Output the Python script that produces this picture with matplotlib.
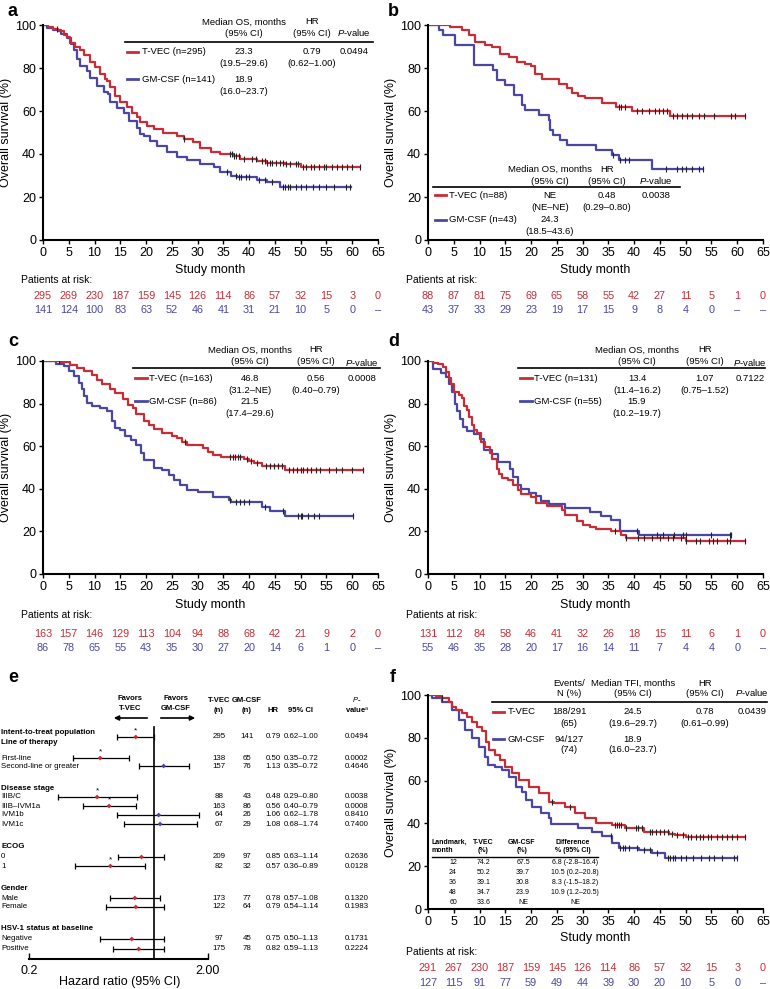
import numpy as np
import matplotlib
matplotlib.use('Agg')
import matplotlib.pyplot as plt
from matplotlib.lines import Line2D
from matplotlib.ticker import NullLocator

plt.rcParams['font.family'] = ['Liberation Sans', 'DejaVu Sans']
plt.rcParams['mathtext.fontset'] = 'custom'
plt.rcParams['mathtext.it'] = 'Liberation Sans:italic'
plt.rcParams['mathtext.rm'] = 'Liberation Sans'
plt.rcParams['mathtext.bf'] = 'Liberation Sans:bold'

RED = '#c62d36'
BLUE = '#4a47a3'
W, H = 770, 989

# ---------------- Kaplan-Meier data (time in months, survival in %) ----------------
a_red_t = [0, 1, 2, 3, 4, 4.7, 5.3, 6.2, 7.2, 8, 9.2, 10, 11.1, 12, 12.4, 13, 14, 15, 16.3, 17.3,
           18.2, 18.9, 20.2, 21.5, 23.3, 26, 27.3, 29.2, 30.5, 32.5, 34.4, 37, 38.3, 41.5, 43.5, 47, 50]
a_red_s = [100, 99, 98, 97, 95.5, 94.5, 91.5, 90, 88.5, 86, 83, 80.5, 77, 75, 74, 71, 67, 64, 62, 59,
           57, 55, 53, 51.5, 49.8, 48.5, 47, 45.4, 43, 40.8, 40, 39.2, 37.7, 36.6, 36, 35.3, 33.8]
a_red_end = 61.5
a_red_cens = [2.7, 27.3, 36.2, 36.6, 37, 37.4, 38, 39, 40.5, 41.3, 42.5, 43, 43.5, 44, 44.5, 45.2, 46,
              46.5, 47.2, 48, 49, 49.5, 50.5, 51, 52, 52.5, 53.5, 54.5, 55, 56, 57, 58, 59, 60, 61.5]
a_blue_t = [0, 0.8, 2, 3.4, 4.7, 5.5, 6, 6.6, 7.2, 8.5, 9.2, 10.5, 11.8, 12.7, 13, 14.4, 15.7, 16.6,
            18.2, 18.9, 19.5, 20.8, 22.1, 24, 26, 27.9, 30.5, 33.1, 34.4, 36.4, 37.6, 41.5, 43.5, 46]
a_blue_s = [100, 98.5, 97.5, 96, 94, 91, 88.5, 84, 81, 78.5, 75.4, 71.5, 69, 67.7, 64, 61.5, 59, 55.4,
            52, 49.5, 48.5, 46, 43.8, 40.8, 38.5, 37, 35.4, 33.8, 31.5, 30, 29.2, 27.7, 27, 24.6]
a_blue_end = 59.7
a_blue_cens = [35.7, 37.5, 38, 38.5, 39.3, 40, 42, 43, 44.5, 46.5, 47, 47.5, 48, 49, 50, 51, 52.3,
               53.5, 55, 56.5, 58.8, 59.5]
a_risk_red = ['295', '269', '230', '187', '159', '145', '126', '114', '86', '57', '32', '15', '3', '0']
a_risk_blue = ['141', '124', '100', '83', '63', '52', '46', '41', '31', '21', '10', '5', '0', '–']

b_red_t = [0, 4.3, 6.5, 7.9, 9.2, 11.1, 12.4, 14, 15.7, 17.3, 18.9, 20, 20.8, 22.1, 25.4, 27, 27.9,
           29.2, 30.5, 33.8, 36.4, 39.6, 46.9]
b_red_s = [100, 98.9, 97.7, 95.5, 92, 90.9, 89.8, 86.4, 85.2, 83, 81.8, 80.7, 77.3, 75, 72.7, 70.5,
           68.2, 67, 65.9, 63.6, 62, 60.2, 57.7]
b_red_end = 61.6
b_red_cens = [37, 37.5, 38.2, 40.5, 41.5, 42.8, 44, 44.8, 45.5, 46.3, 47.5, 48.3, 49.2, 50.3, 51.3,
              52.5, 53.5, 55.5, 58.8, 59.5, 61.6]
b_blue_t = [0, 2.1, 3, 5.3, 8.9, 12.7, 13.4, 15, 16.6, 18.2, 18.9, 21.5, 23.4, 23.7, 24.3, 25.7, 27,
            32.5, 35.7, 37, 43.5]
b_blue_s = [100, 97.7, 95.3, 90.7, 81.4, 79.1, 74.4, 72.1, 67.4, 62.8, 60.5, 58.1, 55.8, 51.2, 48.8,
            46.5, 44.2, 41.9, 39.5, 37.2, 32.8]
b_blue_end = 53.3
b_blue_cens = [35.8, 37.3, 38.3, 39, 46.1, 48.3, 49.2, 50, 51.3, 52.5, 53.3]
b_risk_red = ['88', '87', '81', '75', '69', '65', '58', '55', '42', '27', '11', '5', '1', '0']
b_risk_blue = ['43', '37', '33', '29', '23', '19', '17', '15', '9', '8', '4', '0', '–', '–']

c_red_t = [0, 3.3, 5.3, 6.5, 8, 9.5, 10.5, 11.5, 13, 14, 15.5, 16.5, 17.5, 18, 19.5, 20.5, 21.5, 23,
           25, 26, 27, 28, 31, 32, 33, 34.5, 39, 40, 41, 42.5, 47]
c_red_s = [100, 99.4, 98, 96.5, 95.2, 93.5, 91, 89, 87, 85, 82, 79.5, 78, 75, 72, 70, 68, 66, 65, 64,
           62, 60.5, 59, 57.5, 56, 55, 54, 53, 52, 50.5, 49]
c_red_end = 62
c_red_cens = [3.1, 27.5, 36.3, 36.8, 37.3, 37.8, 38.3, 39.5, 40.3, 41.5, 43.3, 44, 44.8, 45.5, 46.3,
              47.8, 48.5, 49.3, 50.1, 50.5, 51.2, 52, 53, 53.8, 55.5, 56.8, 58, 60, 62]
c_blue_t = [0, 2.5, 4, 5, 6, 7, 7.5, 8, 8.5, 9.5, 11, 12.5, 13.3, 14, 15, 16, 17, 18, 19, 19.5, 21.5,
            23, 24.5, 25.5, 26.5, 28, 30, 33, 36, 36.5, 42.5, 44, 47]
c_blue_s = [100, 98.8, 97.7, 95.3, 93, 89.5, 87, 83.7, 80.2, 79, 77.9, 76.7, 72, 68.6, 67.4, 65, 62.8,
            60.5, 57, 53.5, 49.8, 48.8, 46.5, 44.2, 41.9, 39.5, 38.4, 36, 34.9, 33.7, 31.4, 29.6, 27.4]
c_blue_end = 60.2
c_blue_cens = [36.3, 37.5, 38.2, 39, 40, 43, 46.5, 49.5, 50, 50.3, 51.5, 52.5, 53.5, 60.2]
c_risk_red = ['163', '157', '146', '129', '113', '104', '94', '88', '68', '42', '21', '9', '2', '0']
c_risk_blue = ['86', '78', '65', '55', '43', '35', '30', '27', '20', '14', '6', '1', '0', '–']

d_red_t = [0, 1, 2, 3, 3.5, 4, 4.5, 5, 6, 6.5, 7, 7.5, 8, 8.5, 9, 9.5, 10.3, 11, 12, 12.5, 13.4, 13.8,
           14.3, 15.5, 16.5, 17.5, 18, 20, 21, 23, 26, 26.5, 29, 30, 31.5, 32.5, 35.5, 37.5, 38.5, 50]
d_red_s = [100, 99.2, 98.5, 97, 95, 92, 89, 85.5, 84, 82.5, 79, 77, 73.5, 70, 67.5, 66, 62, 59.5, 57,
           54, 49.5, 47, 45, 44, 42, 39.5, 37.5, 36, 33.5, 32, 30, 27.5, 25, 23, 22, 21, 20, 18.5, 17, 15.6]
d_red_end = 61.5
d_red_cens = [36.2, 38.5, 40.8, 42, 43.5, 45, 46.5, 47.5, 49, 50, 52, 52.8, 54.5, 55.3, 56, 58, 58.5, 61.5]
d_blue_t = [0, 1, 2.5, 3.5, 4, 4.7, 5.2, 5.7, 6.3, 6.7, 7.5, 9, 10, 10.8, 12.5, 13.5, 15.9, 16.5, 17.5,
            18, 19.5, 21, 22, 23.5, 26.5, 31.5, 33.5, 35.5, 37.3, 41]
d_blue_s = [100, 96.4, 94.5, 92.7, 89.1, 85.5, 80, 76.4, 72.7, 69.1, 67.3, 65.5, 63.6, 58.2, 56.4, 52.7,
            49.1, 45.5, 41.8, 40, 38.2, 36.4, 34.5, 32.7, 30.9, 29.1, 27.3, 25.5, 20, 18.2]
d_blue_end = 58.7
d_blue_cens = [40.5, 44.5, 45.5, 47.8, 49.5, 50, 55, 58.5, 58.7]
d_risk_red = ['131', '112', '84', '58', '46', '41', '32', '26', '18', '15', '11', '6', '1', '0']
d_risk_blue = ['55', '46', '35', '28', '20', '17', '16', '14', '11', '7', '4', '4', '0', '–']

f_red_t = [0, 1.5, 2.8, 4, 4.7, 5.5, 6.6, 7.5, 8.5, 9.5, 10.5, 11.2, 11.9, 13, 14, 15, 16.3, 17.6, 19.5,
           21.5, 23.4, 24.5, 26.6, 28.6, 30.5, 32.5, 35.7, 38.3, 42, 46.7, 48, 50]
f_red_s = [100, 99.3, 98.6, 96.5, 94.5, 93, 91.5, 89.5, 87.5, 85, 83, 78, 74.2, 72, 69.6, 66.5, 63.5,
           60.3, 57, 54, 50.2, 49.5, 47.8, 44.8, 42.5, 40.1, 39.3, 37.7, 36.2, 35.2, 34.6, 33.6]
f_red_end = 61.6
f_red_cens = [2.8, 24, 27.6, 36.2, 36.6, 37, 37.5, 38.5, 40.3, 40.8, 41.5, 43, 43.5, 44.2, 45, 45.8,
              46.5, 47.3, 48.3, 49.5, 50.5, 51, 52, 52.7, 53.3, 54.3, 55, 56, 57, 58, 59, 60, 61.6]
f_blue_t = [0, 0.8, 2.7, 4.7, 6, 7.2, 8.5, 9.8, 11.1, 11.7, 13, 14.4, 15.7, 17, 18.2, 19, 20.2, 22,
            23.4, 23.9, 29.2, 31.8, 33.8, 35.7, 37, 40.9, 43.5, 46]
f_blue_s = [100, 98.6, 96.9, 93, 88.3, 83.6, 79.7, 75.8, 71.1, 67.5, 66.5, 64.9, 61.8, 57.1, 54.8, 51,
            47.8, 44.8, 42.5, 39.7, 37.7, 36.2, 34, 30.8, 28.3, 27.5, 26, 23.9]
f_blue_end = 60
f_blue_cens = [35.5, 37.3, 37.8, 38.3, 39, 40.5, 42, 43, 44.5, 46.5, 47, 47.5, 48, 49, 50, 51.5, 53,
               54.5, 55.5, 57, 59.3, 60]
f_risk_red = ['291', '267', '230', '187', '159', '145', '126', '114', '86', '57', '32', '15', '3', '0']
f_risk_blue = ['127', '115', '91', '77', '59', '49', '44', '39', '30', '20', '10', '5', '0', '–']

risk_months = list(range(0, 70, 5))

# landmark table (panel f)
lm_month = ['12', '24', '36', '48', '60']
lm_tvec = ['74.2', '50.2', '39.1', '34.7', '33.6']
lm_gm = ['67.5', '39.7', '30.8', '23.9', 'NE']
lm_diff = ['6.8 (-2.8–16.4)', '10.5 (0.2–20.8)', '8.3 (-1.5–18.2)', '10.9 (1.2–20.5)', 'NE']

# ---------------- forest plot data (panel e) ----------------
fp_labels = ['Intent-to-treat population', 'Line of therapy', 'First-line', 'Second-line or greater',
             'Disease stage', 'IIIB/C', 'IIIB–IVM1a', 'IVM1b', 'IVM1c', 'ECOG', '0', '1', 'Gender',
             'Male', 'Female', 'HSV-1 status at baseline', 'Negative', 'Positive']
fp_bold = [True, True, False, False, True, False, False, False, False, True, False, False, True,
           False, False, True, False, False]
n_tvec = [295, 138, 157, 88, 163, 64, 67, 209, 82, 173, 122, 97, 175]
n_gm = [141, 65, 76, 43, 86, 26, 29, 97, 32, 77, 64, 45, 78]
hr = [0.79, 0.50, 1.13, 0.48, 0.56, 1.06, 1.08, 0.85, 0.57, 0.78, 0.79, 0.75, 0.82]
ci_lo = [0.62, 0.35, 0.82, 0.29, 0.40, 0.62, 0.68, 0.63, 0.36, 0.57, 0.54, 0.50, 0.59]
ci_hi = [1.00, 0.72, 1.56, 0.80, 0.79, 1.78, 1.74, 1.14, 0.89, 1.08, 1.14, 1.13, 1.13]
ci_text = ['0.62–1.00', '0.35–0.72', '0.35–0.72', '0.29–0.80', '0.40–0.79', '0.62–1.78', '0.68–1.74',
           '0.63–1.14', '0.36–0.89', '0.57–1.08', '0.54–1.14', '0.50–1.13', '0.59–1.13']
pvals = ['0.0494', '0.0002', '0.4646', '0.0038', '0.0008', '0.8410', '0.7400', '0.2636', '0.0128',
         '0.1320', '0.1983', '0.1731', '0.2224']

fig = plt.figure(figsize=(7.7, 9.89), dpi=100)


def T(x, y, s, **kw):
    kw.setdefault('va', 'center')
    kw.setdefault('ha', 'center')
    kw.setdefault('fontsize', 6.8)
    fig.text(x / W, 1 - y / H, s, **kw)


def L(x0, x1, y, **kw):
    kw.setdefault('color', 'black')
    kw.setdefault('lw', 1.2)
    fig.add_artist(Line2D([x0 / W, x1 / W], [1 - y / H, 1 - y / H], transform=fig.transFigure, **kw))


def km_panel(box, arms, risk_red, risk_blue, off):
    x0, y0, x1, y1 = box
    ax = fig.add_axes([x0 / W, 1 - y1 / H, (x1 - x0) / W, (y1 - y0) / H])
    for t, s, end, cens, col in arms:
        ax.step(list(t) + [end], list(s) + [s[-1]], where='post', color=col, lw=1.6, zorder=2)
        idx = np.searchsorted(t, cens, side='right') - 1
        ax.plot(cens, np.array(s)[idx], ls='none', marker='|', ms=5, mew=0.8, color='#222222', zorder=3)
    ax.set_xlim(0, 65)
    ax.set_ylim(0, 100)
    ax.set_xticks(range(0, 70, 5))
    ax.set_yticks(range(0, 120, 20))
    for sp in ['top', 'right']:
        ax.spines[sp].set_visible(False)
    for sp in ['left', 'bottom']:
        ax.spines[sp].set_linewidth(1.5)
    ax.tick_params(length=3, width=1, labelsize=9, pad=2)
    ax.set_ylabel('Overall survival (%)', fontsize=9, labelpad=2)
    hpx = y1 - y0
    tr = ax.get_xaxis_transform()
    ax.text(32.5, -off[0] / hpx, 'Study month', transform=tr, ha='center', va='center', fontsize=9)
    ax.text(-(x0 - off[4]) / (x1 - x0) * 65, -off[1] / hpx, 'Patients at risk:', transform=tr,
            ha='left', va='center', fontsize=7.5)
    for m, r, b in zip(risk_months, risk_red, risk_blue):
        ax.text(m, -off[2] / hpx, r, transform=tr, ha='center', va='center', fontsize=7.8, color=RED)
        ax.text(m, -off[3] / hpx, b, transform=tr, ha='center', va='center', fontsize=7.8, color=BLUE)
    return ax


axa = km_panel((43, 25, 378, 240),
               [(a_blue_t, a_blue_s, a_blue_end, a_blue_cens, BLUE),
                (a_red_t, a_red_s, a_red_end, a_red_cens, RED)],
               a_risk_red, a_risk_blue, (30, 40, 56, 70, 21))
axb = km_panel((428, 25, 763, 240),
               [(b_blue_t, b_blue_s, b_blue_end, b_blue_cens, BLUE),
                (b_red_t, b_red_s, b_red_end, b_red_cens, RED)],
               b_risk_red, b_risk_blue, (30, 40, 56, 70, 406))
axc = km_panel((43, 361, 378, 574),
               [(c_blue_t, c_blue_s, c_blue_end, c_blue_cens, BLUE),
                (c_red_t, c_red_s, c_red_end, c_red_cens, RED)],
               c_risk_red, c_risk_blue, (31, 41, 60, 74, 21))
axd = km_panel((428, 361, 763, 574),
               [(d_blue_t, d_blue_s, d_blue_end, d_blue_cens, BLUE),
                (d_red_t, d_red_s, d_red_end, d_red_cens, RED)],
               d_risk_red, d_risk_blue, (31, 41, 60, 74, 406))
axf = km_panel((428, 695, 763, 909),
               [(f_blue_t, f_blue_s, f_blue_end, f_blue_cens, BLUE),
                (f_red_t, f_red_s, f_red_end, f_red_cens, RED)],
               f_risk_red, f_risk_blue, (29, 43, 59, 74, 406))

# panel letters
for lx, ly, s in [(8, 11, 'a'), (388, 11, 'b'), (8, 341, 'c'), (388, 341, 'd'), (8, 677, 'e'), (390, 677, 'f')]:
    T(lx, ly, s, fontsize=13, fontweight='bold', ha='left')

# ---------------- legend tables ----------------
PV = '$\\mathit{P}$-value'


def os_table(dx, ys, cols, line, sw, lab_x, rows):
    # ys: header1, header2, rule, row1, row1b, row2, row2b
    med, hrc, pc = cols
    T(med + dx, ys[0], 'Median OS, months')
    T(med + dx, ys[1], '(95% CI)')
    T(hrc + dx, ys[0], 'HR')
    T(hrc + dx, ys[1], '(95% CI)')
    T(pc + dx, ys[1], PV)
    L(line[0] + dx, line[1] + dx, ys[2])
    for (yy, yb, col, lab, m1, m2, h1, h2, p) in [(ys[3], ys[4], RED) + rows[0], (ys[5], ys[6], BLUE) + rows[1]]:
        L(sw[0] + dx, sw[1] + dx, yy, color=col, lw=2)
        T(lab_x + dx, yy, lab, ha='left')
        T(med + dx, yy, m1)
        T(med + dx, yb, m2)
        if h1:
            T(hrc + dx, yy, h1)
            T(hrc + dx, yb, h2)
            T(pc + dx, yy, p)


os_table(0, (22, 33, 42, 52, 64, 79, 91), (244, 312, 354), (125, 373), (127, 138), 142,
         [('T-VEC (n=295)', '23.3', '(19.5–29.6)', '0.79', '(0.62–1.00)', '0.0494'),
          ('GM-CSF (n=141)', '18.9', '(16.0–23.7)', '', '', '')])
os_table(0, (169, 181, 187, 195, 207, 220, 232), (550, 607, 656), (433, 680), (435, 446), 449,
         [('T-VEC (n=88)', 'NE', '(NE–NE)', '0.48', '(0.29–0.80)', '0.0038'),
          ('GM-CSF (n=43)', '24.3', '(18.5–43.6)', '', '', '')])
os_table(0, (350, 362, 368, 378, 390, 401, 413), (250, 316, 362), (133, 380), (135, 147), 149,
         [('T-VEC (n=163)', '46.8', '(31.2–NE)', '0.56', '(0.40–0.79)', '0.0008'),
          ('GM-CSF (n=86)', '21.5', '(17.4–29.6)', '', '', '')])
os_table(0, (350, 362, 368, 378, 390, 401, 413), (637, 705, 750), (518, 765), (520, 532), 534,
         [('T-VEC (n=131)', '13.4', '(11.4–16.2)', '1.07', '(0.75–1.52)', '0.7122'),
          ('GM-CSF (n=55)', '15.9', '(10.2–19.7)', '', '', '')])

# panel f table
T(569, 683, 'Events/')
T(569, 693, 'N (%)')
T(633, 683, 'Median TFI, months')
T(633, 693, '(95% CI)')
T(705, 683, 'HR')
T(705, 693, '(95% CI)')
T(752, 693, PV)
L(492, 767, 702)
L(493, 504, 712, color=RED, lw=2)
L(493, 504, 739, color=BLUE, lw=2)
T(508, 712, 'T-VEC', ha='left')
T(508, 739, 'GM-CSF', ha='left')
T(569, 712, '188/291')
T(569, 723, '(65)')
T(633, 712, '24.5')
T(633, 723, '(19.6–29.7)')
T(705, 712, '0.78')
T(705, 723, '(0.61–0.99)')
T(752, 712, '0.0439')
T(569, 739, '94/127')
T(569, 750, '(74)')
T(633, 739, '18.9')
T(633, 750, '(16.0–23.7)')

# landmark table
LF = 5
T(432, 842, 'Landmark,', ha='left', fontsize=LF, fontweight='bold')
T(432, 851, 'month', ha='left', fontsize=LF, fontweight='bold')
T(483, 842, 'T-VEC', fontsize=LF, fontweight='bold')
T(483, 851, '(%)', fontsize=LF, fontweight='bold')
T(522, 842, 'GM-CSF', fontsize=LF, fontweight='bold')
T(522, 851, '(%)', fontsize=LF, fontweight='bold')
T(573, 842, 'Difference', fontsize=LF, fontweight='bold')
T(573, 851, '% (95% CI)', fontsize=LF, fontweight='bold')
L(432, 598, 857, lw=1)
for i, (m, a, g, d) in enumerate(zip(lm_month, lm_tvec, lm_gm, lm_diff)):
    yy = 863 + i * 9.8
    T(453, yy, m, fontsize=LF)
    T(484, yy, a, fontsize=LF)
    T(523, yy, g, fontsize=LF)
    T(575, yy, d, fontsize=LF)

# ---------------- panel e: forest plot ----------------
label_y = [732, 742, 758, 766, 788, 797, 806, 815, 824, 846, 857, 866, 888, 898, 907, 928, 939, 949]
row_y = [737, 758, 766, 797, 806, 815, 824, 857, 866, 898, 907, 939, 949]

axe = fig.add_axes([29 / W, 1 - 959 / H, (208 - 29) / W, (959 - 690) / H])
axe.set_xscale('log')
axe.set_xlim(0.2, 2.0)
axe.set_ylim(959, 690)
for sp in ['top', 'right', 'left']:
    axe.spines[sp].set_visible(False)
axe.spines['bottom'].set_linewidth(1.5)
axe.set_xticks([0.2, 2.0])
axe.set_xticklabels(['0.2', '2.00'])
axe.xaxis.set_minor_locator(NullLocator())
axe.tick_params(axis='x', direction='in', length=4, width=1, labelsize=9, pad=4)
axe.set_yticks([])
axe.patch.set_alpha(0)
axe.plot([1, 1], [727, 959], color='black', lw=1.2)
hr_a = np.array(hr)
axe.errorbar(hr_a, row_y, xerr=[hr_a - np.array(ci_lo), np.array(ci_hi) - hr_a], fmt='none',
             ecolor='black', elinewidth=0.9, capsize=2, capthick=0.9)
axe.scatter(hr_a, row_y, s=6, marker='D', c=[RED if h < 1 else BLUE for h in hr], zorder=3, lw=0)
for h, r, p in zip(hr, row_y, pvals):
    if float(p) < 0.05:
        axe.text(h, r - 6, '*', ha='center', va='center', fontsize=6)

for lab, yy, b in zip(fp_labels, label_y, fp_bold):
    T(1, yy, lab, ha='left', fontsize=5.7, fontweight='bold' if b else 'normal')

T(120, 982, 'Hazard ratio (95% CI)', fontsize=9)
FB = dict(fontsize=5.5, fontweight='bold')
T(130, 699, 'Favors', **FB)
T(130, 708, 'T-VEC', **FB)
T(176, 699, 'Favors', **FB)
T(176, 708, 'GM-CSF', **FB)
fig.add_artist(plt.matplotlib.patches.FancyArrowPatch((150 / W, 1 - 718 / H), (111 / W, 1 - 718 / H),
               transform=fig.transFigure, arrowstyle='-|>', mutation_scale=7, lw=1.2, color='black'))
fig.add_artist(plt.matplotlib.patches.FancyArrowPatch((158 / W, 1 - 718 / H), (198 / W, 1 - 718 / H),
               transform=fig.transFigure, arrowstyle='-|>', mutation_scale=7, lw=1.2, color='black'))
T(219, 700, 'T-VEC', **FB)
T(219, 710, '(n)', **FB)
T(247, 700, 'GM-CSF', **FB)
T(247, 710, '(n)', **FB)
T(273, 710, 'HR', **FB)
T(301, 710, '95% CI', **FB)
T(357, 699, '$\\mathbf{\\mathit{P}}$-', **FB)
T(357, 710, 'value$^{\\mathrm{a}}$', **FB)

for i, yy in enumerate(row_y):
    T(219, yy, str(n_tvec[i]), fontsize=5.7)
    T(247, yy, str(n_gm[i]), fontsize=5.7)
    T(273, yy, f'{hr[i]:.2f}', fontsize=5.7)
    T(301, yy, ci_text[i], fontsize=5.7)
    T(357, yy, pvals[i], fontsize=5.7)

fig.savefig('out.png', dpi=100)
